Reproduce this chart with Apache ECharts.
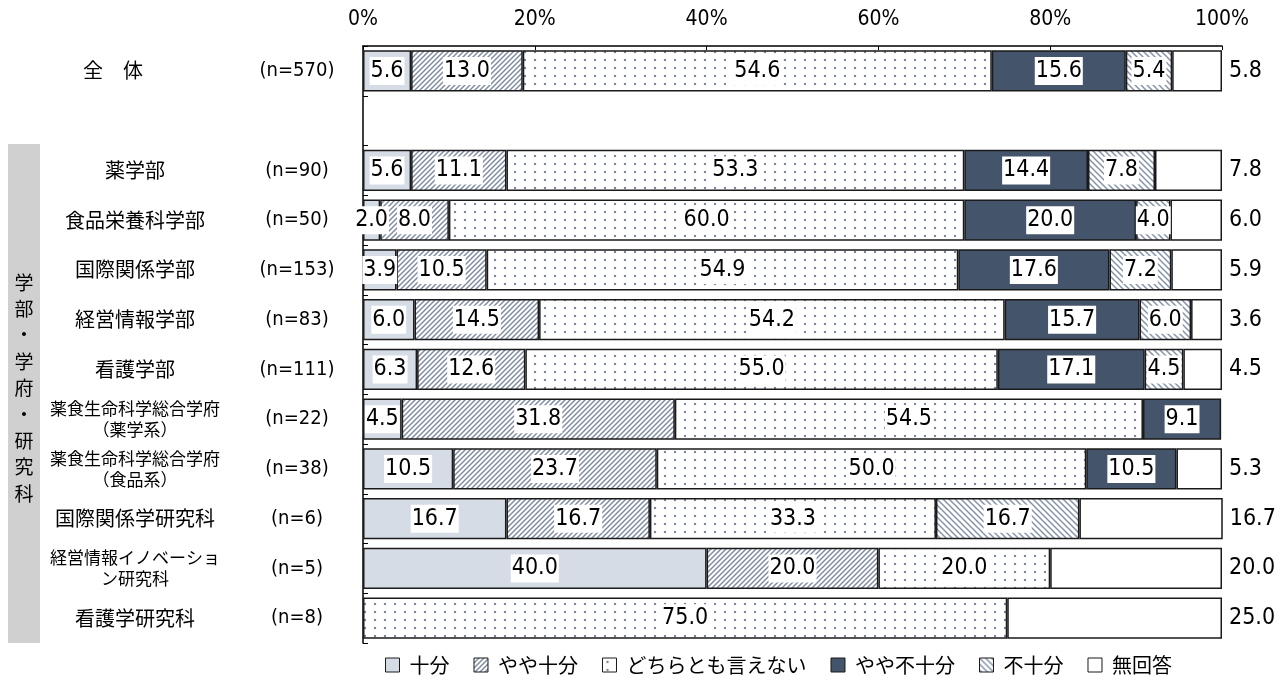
<!DOCTYPE html>
<html>
<head>
<meta charset="utf-8">
<script src="https://cdn.jsdelivr.net/npm/echarts@6/dist/echarts.min.js"></script>
<style>
  html, body { margin: 0; padding: 0; background: #fff; }
  #chart { width: 1287px; height: 684px; }
</style>
</head>
<body>
<div id="chart"></div>
<script>
// categories (blank row between 全体 and the faculties)
const categories = ['全体', '', '薬学部', '食品栄養科学部', '国際関係学部', '経営情報学部', '看護学部',
  '薬食生命科学総合学府\n（薬学系）', '薬食生命科学総合学府\n（食品系）', '国際関係学研究科',
  '経営情報イノベーショ\nン研究科', '看護学研究科']
const nLabels = ['(n=570)', '', '(n=90)', '(n=50)', '(n=153)', '(n=83)', '(n=111)',
  '(n=22)', '(n=38)', '(n=6)', '(n=5)', '(n=8)']
const seriesNames = ['十分', 'やや十分', 'どちらとも言えない', 'やや不十分', '不十分', '無回答']

const juubun = [5.6, null, 5.6, 2.0, 3.9, 6.0, 6.3, 4.5, 10.5, 16.7, 40.0, 0]
const yayaJuubun = [13.0, null, 11.1, 8.0, 10.5, 14.5, 12.6, 31.8, 23.7, 16.7, 20.0, 0]
const dochiraTomo = [54.6, null, 53.3, 60.0, 54.9, 54.2, 55.0, 54.5, 50.0, 33.3, 20.0, 75.0]
const yayaFujuubun = [15.6, null, 14.4, 20.0, 17.6, 15.7, 17.1, 9.1, 10.5, 0, 0, 0]
const fujuubun = [5.4, null, 7.8, 4.0, 7.2, 6.0, 4.5, 0, 0, 16.7, 0, 0]
const mukaitou = [5.8, null, 7.8, 6.0, 5.9, 3.6, 4.5, 0, 5.3, 16.7, 20.0, 25.0]

const tickLabels = ['0%', '20%', '40%', '60%', '80%', '100%']

const NUM_FONT = '"Liberation Sans Narrow", "DejaVu Sans Condensed", sans-serif'
const JP_FONT = '"Noto Sans CJK JP", sans-serif'

// --- fill patterns ---
function hatch(size, dir, color, width) {
  let c = document.createElement('canvas')
  c.width = size
  c.height = size
  let ctx = c.getContext('2d')
  ctx.fillStyle = '#fff'
  ctx.fillRect(0, 0, size, size)
  ctx.strokeStyle = color
  ctx.lineWidth = width
  let lines = dir > 0
    ? [[-1, size + 1, size + 1, -1], [-1, 1, 1, -1], [size - 1, size + 1, size + 1, size - 1]]
    : [[-1, -1, size + 1, size + 1], [-1, size - 1, 1, size + 1], [size - 1, -1, size + 1, 1]]
  lines.forEach((l) => {
    ctx.beginPath()
    ctx.moveTo(l[0], l[1])
    ctx.lineTo(l[2], l[3])
    ctx.stroke()
  })
  return { image: c, repeat: 'repeat' }
}
function dots() {
  let c = document.createElement('canvas')
  c.width = 10
  c.height = 8
  let ctx = c.getContext('2d')
  ctx.fillStyle = '#fff'
  ctx.fillRect(0, 0, 10, 8)
  ctx.fillStyle = '#7b879c'
  ctx.beginPath()
  ctx.arc(5, 4, 1.2, 0, Math.PI * 2)
  ctx.fill()
  return { image: c, repeat: 'repeat' }
}

const fills = [
  '#d6dce5',
  hatch(5, 1, '#7d8aa2', 1.4),
  dots(),
  '#44546a',
  hatch(6, -1, '#8593aa', 1.5),
  '#ffffff',
]
const values = [juubun, yayaJuubun, dochiraTomo, yayaFujuubun, fujuubun, mukaitou]

let seriesData = []
seriesNames.forEach((name, i) => {
  let last = i === seriesNames.length - 1
  seriesData.push({
    name: name,
    type: 'bar',
    stack: 'total',
    barCategoryGap: '17%',
    itemStyle: {
      color: fills[i],
      borderColor: '#1a1a1a',
      borderWidth: 1.5,
    },
    label: {
      show: true,
      position: last ? 'right' : 'inside',
      distance: 6,
      formatter: (p) => (p.value ? p.value.toFixed(1) : ''),
      fontFamily: NUM_FONT,
      fontSize: 23,
      color: '#000',
      backgroundColor: last ? 'transparent' : '#fff',
      padding: [3, 1, 2, 1],
    },
    emphasis: { disabled: true },
    data: values[i].map((v) => (v ? v : '-')),
  })
})

const chart = echarts.init(document.getElementById('chart'))
const option = {
  animation: false,
  grid: { left: 363, right: 65, top: 46, bottom: 41 },
  legend: {
    bottom: 4,
    left: 380,
    icon: 'rect',
    itemWidth: 14,
    itemHeight: 14,
    itemGap: 24,
    itemStyle: { borderColor: '#1a1a1a', borderWidth: 1 },
    textStyle: { fontFamily: JP_FONT, fontSize: 20, color: '#000', padding: [0, 0, 0, 5] },
    data: seriesNames,
  },
  xAxis: {
    type: 'value',
    position: 'top',
    min: 0,
    max: 100,
    interval: 20,
    axisLine: { show: true, lineStyle: { color: '#000', width: 1.5 } },
    axisTick: { show: true, inside: true, length: 4, lineStyle: { color: '#000' } },
    splitLine: { show: false },
    axisLabel: {
      margin: 16,
      formatter: (v) => tickLabels[v / 20],
      fontFamily: NUM_FONT,
      fontSize: 21,
      color: '#000',
    },
  },
  yAxis: [
    {
      type: 'category',
      inverse: true,
      data: categories,
      axisLine: { show: true, lineStyle: { color: '#000', width: 1.5 } },
      axisTick: { show: true, inside: true, length: 5, lineStyle: { color: '#000' } },
      axisLabel: {
        margin: 228,
        align: 'center',
        color: '#000',
        fontFamily: JP_FONT,
        fontSize: 20,
        formatter: (v) => {
          if (v === '全体') return '{w|全　体}'
          if (v.indexOf('\n') >= 0) return v.split('\n').map((s) => '{s|' + s + '}').join('\n')
          return v
        },
        rich: {
          w: { fontFamily: JP_FONT, fontSize: 20, color: '#000', padding: [0, 44, 0, 0] },
          s: { fontFamily: JP_FONT, fontSize: 17, color: '#000', lineHeight: 21 },
        },
      },
    },
    {
      type: 'category',
      inverse: true,
      position: 'left',
      data: nLabels,
      axisLine: { show: false },
      axisTick: { show: false },
      axisLabel: {
        margin: 66,
        align: 'center',
        color: '#000',
        fontFamily: NUM_FONT,
        fontSize: 20,
      },
    },
  ],
  graphic: [
    {
      type: 'rect',
      shape: { x: 8, y: 144, width: 32, height: 499 },
      style: { fill: '#d0d0d0' },
      z: -1,
    },
    {
      type: 'text',
      x: 24,
      y: 388,
      style: {
        text: '学\n部\n・\n学\n府\n・\n研\n究\n科',
        fontFamily: JP_FONT,
        fontSize: 19,
        lineHeight: 26.4,
        fill: '#000',
        align: 'center',
        verticalAlign: 'middle',
      },
    },
  ],
  series: seriesData,
}
chart.setOption(option)
</script>
</body>
</html>
